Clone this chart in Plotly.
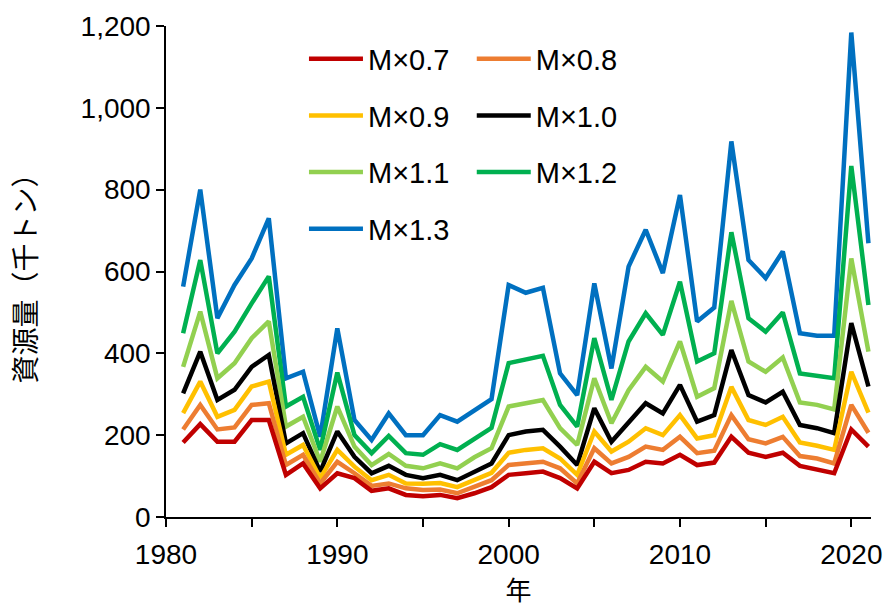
import plotly.graph_objects as go

# Stock biomass (thousand tonnes) under different natural-mortality multipliers
years = list(range(1981, 2022))

m07 = [182, 227, 184, 184, 237, 237, 103, 131, 70, 107, 95, 64, 70, 54, 51, 54, 46, 58, 73, 103,
       107, 111, 95, 70, 135, 107, 115, 135, 131, 152, 127, 133, 196, 157, 147, 157, 125, 117, 107, 214, 172]
m08 = [214, 274, 214, 219, 274, 278, 127, 152, 82, 135, 107, 76, 82, 70, 66, 67, 58, 74, 90, 127,
       131, 135, 119, 82, 168, 131, 147, 172, 164, 196, 156, 162, 249, 190, 180, 196, 149, 143, 131, 274, 206]
m09 = [254, 331, 245, 262, 319, 331, 152, 176, 95, 164, 123, 90, 103, 82, 81, 83, 73, 90, 108, 157,
       164, 168, 143, 103, 209, 160, 184, 217, 200, 249, 192, 200, 318, 237, 225, 245, 182, 174, 164, 355, 255]
m10 = [302, 404, 286, 311, 367, 396, 180, 205, 111, 209, 147, 107, 125, 103, 95, 103, 90, 111, 131, 200,
       209, 213, 172, 127, 266, 184, 233, 278, 253, 323, 233, 249, 408, 298, 280, 306, 225, 217, 205, 474, 319]
m11 = [367, 502, 339, 376, 437, 478, 221, 245, 135, 270, 172, 127, 154, 125, 119, 131, 119, 146, 168, 270,
       278, 286, 217, 176, 339, 229, 310, 367, 331, 429, 294, 315, 528, 380, 355, 390, 280, 274, 263, 632, 404]
m12 = [449, 628, 400, 453, 522, 588, 270, 294, 164, 353, 200, 156, 198, 156, 152, 178, 164, 192, 218, 376,
       384, 394, 274, 221, 437, 286, 429, 498, 445, 575, 380, 400, 696, 486, 453, 500, 351, 345, 339, 858, 518]
m13 = [563, 800, 486, 567, 632, 730, 339, 355, 196, 461, 237, 188, 253, 200, 200, 249, 233, 262, 288, 567,
       548, 560, 351, 298, 571, 363, 612, 702, 596, 787, 478, 512, 918, 628, 584, 649, 449, 443, 443, 1184, 669]

series_names = ["M×0.7", "M×0.8", "M×0.9", "M×1.0", "M×1.1", "M×1.2", "M×1.3"]
series_values = [m07, m08, m09, m10, m11, m12, m13]
colors = ["#C00000", "#ED7D31", "#FFC000", "#000000", "#92D050", "#00B050", "#0070C0"]
legend_ids = ["legend", "legend2", "legend", "legend2", "legend", "legend2", "legend"]

x_tickvals = list(range(1980, 2021, 5))
x_ticktext = [str(v) if v % 10 == 0 else "" for v in x_tickvals]
y_tickvals = list(range(0, 1201, 200))

fig = go.Figure()
# draw from the highest multiplier down so lower lines sit on top
for name, vals, col, lg in reversed(list(zip(series_names, series_values, colors, legend_ids))):
    fig.add_trace(go.Scatter(
        x=years, y=vals, name=name, mode="lines",
        line=dict(color=col, width=4.5),
        legend=lg, legendgroup=name,
        legendrank=series_names.index(name),
    ))

base_font = "Liberation Sans, Arial, Noto Sans CJK JP, sans-serif"
cjk_font = "Noto Sans CJK JP, sans-serif"

legend_common = dict(
    bgcolor="rgba(0,0,0,0)", borderwidth=0,
    font=dict(family=base_font, size=29, color="#000000"),
    traceorder="grouped", tracegroupgap=16, itemwidth=54,
    xanchor="left", yanchor="top",
)

fig.update_layout(
    width=886, height=607,
    margin=dict(l=166, r=15, t=26, b=90),
    paper_bgcolor="white", plot_bgcolor="white",
    font=dict(family=base_font, size=28, color="#000000"),
    showlegend=True,
    legend=dict(x=0.1957, y=0.985, **legend_common),
    legend2=dict(x=0.4337, y=0.985, **legend_common),
    xaxis=dict(
        range=[1980, 2021.15],
        tickmode="array", tickvals=x_tickvals, ticktext=x_ticktext,
        ticks="outside", ticklen=8, tickwidth=1.5, tickcolor="#000000",
        showline=True, linecolor="#000000", linewidth=1.5,
        showgrid=False, zeroline=False, automargin=False,
        tickfont=dict(family=base_font, size=28),
        ticklabelstandoff=4,
        title=dict(text="年", font=dict(family=cjk_font, size=26), standoff=33),
    ),
    yaxis=dict(
        range=[0, 1200],
        tickmode="array", tickvals=y_tickvals, tickformat=",",
        ticks="outside", ticklen=8, tickwidth=1.5, tickcolor="#000000",
        showline=True, linecolor="#000000", linewidth=1.5,
        showgrid=False, zeroline=False, automargin=False,
        tickfont=dict(family=base_font, size=28),
        title=dict(text="資源量（千トン）", font=dict(family=cjk_font, size=28), standoff=36),
    ),
)

fig.write_html("out.html")
